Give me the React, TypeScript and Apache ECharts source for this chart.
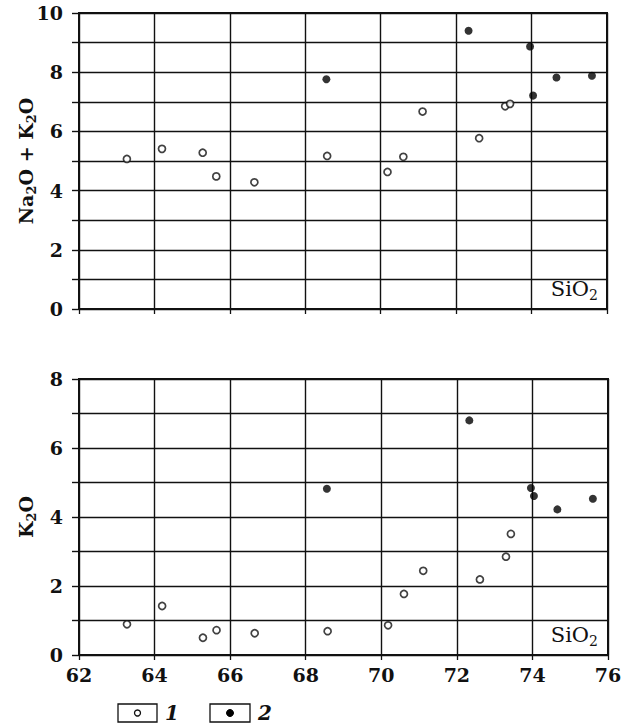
import React, { useEffect, useRef } from "react";
import * as echarts from "echarts";

const openSiO2 = [63.27, 64.2, 65.28, 65.64, 66.65, 68.58, 70.18, 70.6, 71.11, 72.61, 73.3, 73.43];
const openAlk = [5.07, 5.41, 5.28, 4.48, 4.28, 5.17, 4.63, 5.14, 6.67, 5.77, 6.85, 6.93];
const openK2O = [0.89, 1.42, 0.5, 0.72, 0.63, 0.69, 0.86, 1.77, 2.44, 2.19, 2.85, 3.51];
const filledSiO2 = [68.56, 72.33, 73.96, 74.04, 74.66, 75.6];
const filledAlk = [7.76, 9.4, 8.87, 7.21, 7.82, 7.88];
const filledK2O = [4.82, 6.8, 4.84, 4.61, 4.22, 4.53];
const xTicks = [62, 64, 66, 68, 70, 72, 74, 76];
const topY = { min: 0, max: 10 };
const bottomY = { min: 0, max: 8 };

const SERIF = "'DejaVu Serif', 'Liberation Serif', serif";
const INK = "#111";

const zip = (a: number[], b: number[]) => a.map((v, i) => [v, b[i]]);

export default function App() {
  const ref = useRef<HTMLDivElement>(null);
  useEffect(() => {
    if (!ref.current) return;
    const chart = echarts.init(ref.current, undefined, { renderer: "svg" });
    const xBase = (gridIndex: number, showLabel: boolean) => ({
      type: "value",
      gridIndex,
      min: xTicks[0],
      max: xTicks[xTicks.length - 1],
      interval: 2,
      axisLine: { show: true, lineStyle: { color: INK, width: 2 } },
      axisTick: { show: true, inside: false, length: 5, lineStyle: { color: INK, width: 1.3 } },
      axisLabel: {
        show: showLabel,
        margin: 10,
        color: INK,
        fontFamily: SERIF,
        fontWeight: "bold",
        fontSize: 19,
      },
      splitLine: { show: true, lineStyle: { color: INK, width: 1.4 } },
    });
    const yBase = (gridIndex: number, lim: { min: number; max: number }, name: string) => ({
      type: "value",
      gridIndex,
      min: lim.min,
      max: lim.max,
      interval: 1,
      name,
      nameLocation: "middle",
      nameGap: 41,
      nameMoveOverlap: false,
      nameTextStyle: {
        rich: {
          a: { fontFamily: SERIF, fontWeight: "bold", fontSize: 19, lineHeight: 24, color: INK },
          s: { fontFamily: SERIF, fontWeight: "bold", fontSize: 13, lineHeight: 12, verticalAlign: "bottom", color: INK },
        },
      },
      axisLine: { show: true, lineStyle: { color: INK, width: 2 } },
      axisTick: { show: true, inside: false, length: 7, lineStyle: { color: INK, width: 1.4 } },
      axisLabel: {
        margin: 16,
        color: INK,
        fontFamily: SERIF,
        fontWeight: "bold",
        fontSize: 19,
        formatter: (v: number) => (v % 2 === 0 ? String(v) : ""),
      },
      splitLine: { show: true, lineStyle: { color: INK, width: 1.4 } },
    });
    const openStyle = { color: "#fff", borderColor: INK, borderWidth: 1.7 };
    const filledStyle = { color: "#000", borderColor: "#000", borderWidth: 0 };
    const siText = (x: number, y: number) => ({
      type: "text",
      x,
      y,
      style: {
        text: "{a|SiO}{s|2}",
        align: "right",
        verticalAlign: "bottom",
        rich: {
          a: { fontFamily: SERIF, fontSize: 21, lineHeight: 26, fill: INK },
          s: { fontFamily: SERIF, fontSize: 14, lineHeight: 13, verticalAlign: "bottom", fill: INK },
        },
      },
    });
    chart.setOption({
      animation: false,
      backgroundColor: "#fff",
      grid: [
        { left: 79, right: 24, top: 13, height: 296, show: true, borderColor: INK, borderWidth: 2, backgroundColor: "transparent" },
        { left: 79, right: 23, top: 379, height: 276, show: true, borderColor: INK, borderWidth: 2, backgroundColor: "transparent" },
      ],
      xAxis: [xBase(0, false), xBase(1, true)],
      yAxis: [
        yBase(0, topY, "{a|Na}{s|2}{a|O + K}{s|2}{a|O}"),
        yBase(1, bottomY, "{a|K}{s|2}{a|O}"),
      ],
      series: [
        { type: "scatter", name: "1", xAxisIndex: 0, yAxisIndex: 0, data: zip(openSiO2, openAlk), symbol: "circle", symbolSize: 7, itemStyle: openStyle, z: 5 },
        { type: "scatter", name: "2", xAxisIndex: 0, yAxisIndex: 0, data: zip(filledSiO2, filledAlk), symbol: "circle", symbolSize: 8, itemStyle: filledStyle, z: 5 },
        { type: "scatter", name: "1", xAxisIndex: 1, yAxisIndex: 1, data: zip(openSiO2, openK2O), symbol: "circle", symbolSize: 7, itemStyle: openStyle, z: 5 },
        { type: "scatter", name: "2", xAxisIndex: 1, yAxisIndex: 1, data: zip(filledSiO2, filledK2O), symbol: "circle", symbolSize: 8, itemStyle: filledStyle, z: 5 },
      ],
      graphic: [
        siText(598, 302),
        siText(598, 648),
        { type: "rect", shape: { x: 118, y: 704, width: 39, height: 18 }, style: { fill: "#fff", stroke: INK, lineWidth: 1.3 } },
        { type: "circle", shape: { cx: 137.5, cy: 713, r: 3 }, style: { fill: "#fff", stroke: INK, lineWidth: 1.3 } },
        { type: "text", x: 165, y: 713, style: { text: "1", fontFamily: SERIF, fontStyle: "italic", fontWeight: "bold", fontSize: 20, fill: INK, verticalAlign: "middle" } },
        { type: "rect", shape: { x: 210, y: 704, width: 40, height: 18 }, style: { fill: "#fff", stroke: INK, lineWidth: 1.3 } },
        { type: "circle", shape: { cx: 230, cy: 713, r: 3.5 }, style: { fill: "#000", stroke: "#000", lineWidth: 1 } },
        { type: "text", x: 258, y: 713, style: { text: "2", fontFamily: SERIF, fontStyle: "italic", fontWeight: "bold", fontSize: 20, fill: INK, verticalAlign: "middle" } },
      ],
    });
    return () => chart.dispose();
  }, []);
  return (
    <div
      ref={ref}
      style={{ position: "absolute", left: 0, top: 0, width: 631, height: 727, background: "#fff" }}
    />
  );
}
